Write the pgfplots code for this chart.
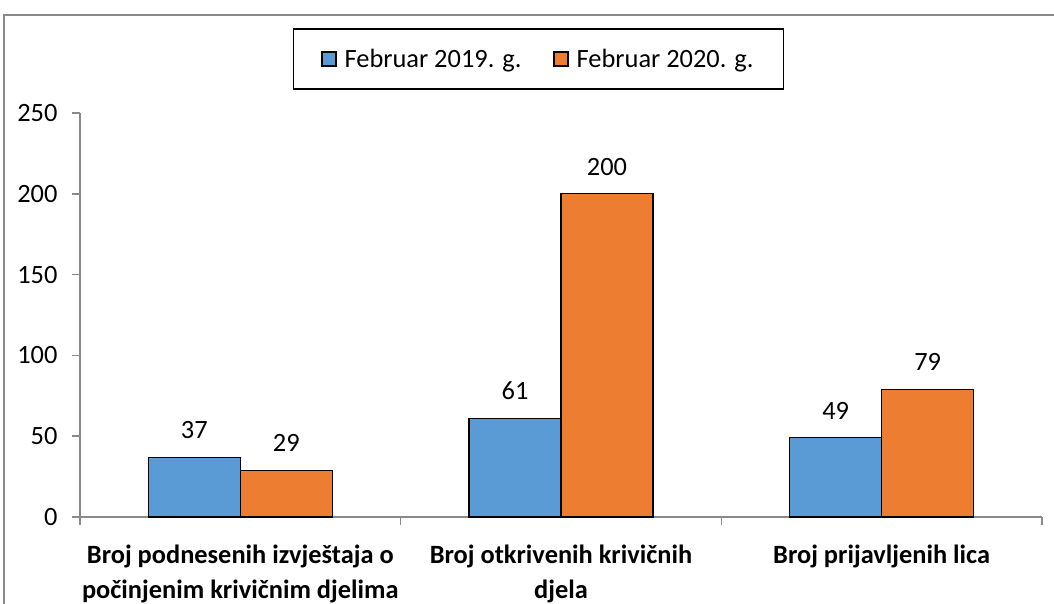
\documentclass[border=0pt]{standalone}
\usepackage{pgfplots}
\pgfplotsset{compat=1.18}
\usepackage{fontspec}
\setmainfont{Carlito}
\definecolor{cblue}{HTML}{5B9BD5}
\definecolor{corange}{HTML}{ED7D31}
\definecolor{agray}{HTML}{898989}
\begin{document}
\begin{tikzpicture}[x=1bp,y=1bp]
\useasboundingbox (0,0) rectangle (1054,604);
\draw[agray, line width=2bp] (4,0) -- (4,589) -- (1054,589);
\begin{axis}[
  at={(80bp,87bp)}, anchor=south west, scale only axis,
  width=962bp, height=404bp,
  xmin=-0.5, xmax=2.5, ymin=0, ymax=250,
  enlarge x limits=false, enlarge y limits=false,
  clip=false,
  axis x line*=bottom, axis y line*=left,
  axis line style={agray, line width=1.5bp, -},
  ytick={0,50,100,150,200,250},
  xtick={-0.5,0.5,1.5,2.5}, xticklabels={},
  tick align=outside, major tick length=8bp,
  tick style={agray, line width=1.5bp},
  /pgf/number format/assume math mode=true,
  yticklabel style={font=\fontsize{26.5}{31}\selectfont, xshift=-11bp, black},
  ybar=0pt, bar width=92bp,
  nodes near coords,
  every node near coord/.append style={font=\fontsize{26.5}{31}\selectfont, inner sep=0pt, yshift=18bp, black},
  legend columns=2,
  legend style={at={(0.4766,1.1337)}, anchor=center, draw=black, line width=1.5bp,
    font=\fontsize{26.5}{31}\selectfont, inner xsep=28bp, inner ysep=18bp,
    /tikz/every odd column/.append style={column sep=6bp},
    /tikz/every even column/.append style={column sep=30bp}},
  legend image code/.code={\draw[#1, draw=black, line width=1.2bp] (0bp,-7bp) rectangle (14bp,7bp);},
]
\addplot[fill=cblue, draw=black, line width=1.2bp] coordinates {(0,37) (1,61) (2,49)};
\addplot[fill=corange, draw=black, line width=1.2bp] coordinates {(0,29) (1,200) (2,79)};
\legend{Februar 2019. g., Februar 2020. g.}
\node[anchor=north, align=center, font=\bfseries\fontsize{26.5}{35}\selectfont, inner sep=0pt, yshift=-28bp] at (axis cs:0,0) {Broj podnesenih izvještaja o\\počinjenim krivičnim djelima};
\node[anchor=north, align=center, font=\bfseries\fontsize{26.5}{35}\selectfont, inner sep=0pt, yshift=-28bp] at (axis cs:1,0) {Broj otkrivenih krivičnih\\djela};
\node[anchor=north, align=center, font=\bfseries\fontsize{26.5}{35}\selectfont, inner sep=0pt, yshift=-28bp] at (axis cs:2,0) {Broj prijavljenih lica};
\end{axis}
\end{tikzpicture}
\end{document}
